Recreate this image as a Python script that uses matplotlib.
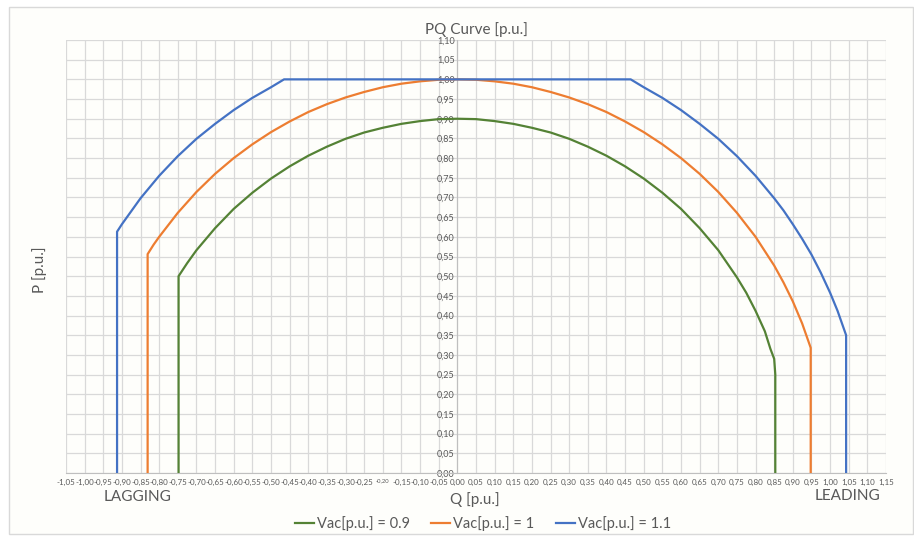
import matplotlib.pyplot as plt
import numpy as np
from matplotlib.patches import Rectangle

# Curva PQ (Q, P) para cada tensão
q_09 = [-0.748, -0.748, -0.725, -0.70, -0.65, -0.60, -0.55, -0.50, -0.45, -0.40, -0.35, -0.30, -0.25,
        -0.20, -0.15, -0.10, -0.05, 0.00, 0.05, 0.10, 0.15, 0.20, 0.25, 0.30, 0.35, 0.40,
        0.45, 0.50, 0.55, 0.60, 0.65, 0.70, 0.75, 0.775, 0.80, 0.825, 0.84, 0.85, 0.853, 0.853]
p_09 = [0.00, 0.50, 0.533, 0.566, 0.622, 0.671, 0.712, 0.748, 0.779, 0.806, 0.829, 0.849, 0.865,
        0.877, 0.887, 0.894, 0.899, 0.900, 0.899, 0.894, 0.887, 0.877, 0.865, 0.849, 0.829, 0.806,
        0.779, 0.748, 0.712, 0.671, 0.622, 0.566, 0.497, 0.458, 0.412, 0.360, 0.315, 0.29, 0.25, 0.00]

q_10 = [-0.831, -0.831, -0.815, -0.80, -0.75, -0.70, -0.65, -0.60, -0.55, -0.50, -0.45, -0.40, -0.35,
        -0.30, -0.25, -0.20, -0.15, -0.10, -0.05, 0.00, 0.05, 0.10, 0.15, 0.20, 0.25, 0.30,
        0.35, 0.40, 0.45, 0.50, 0.55, 0.60, 0.65, 0.70, 0.75, 0.80, 0.85, 0.875, 0.90, 0.925,
        0.948, 0.948]
p_10 = [0.00, 0.556, 0.580, 0.600, 0.661, 0.714, 0.760, 0.800, 0.835, 0.866, 0.893, 0.917, 0.937,
        0.954, 0.968, 0.980, 0.989, 0.995, 0.999, 1.000, 0.999, 0.995, 0.989, 0.980, 0.968, 0.954,
        0.937, 0.917, 0.893, 0.866, 0.835, 0.800, 0.760, 0.714, 0.661, 0.600, 0.527, 0.484, 0.436, 0.380,
        0.318, 0.00]

q_11 = [-0.913, -0.913, -0.90, -0.85, -0.80, -0.75, -0.70, -0.65, -0.60, -0.55, -0.50, -0.465,
        0.465, 0.50, 0.55, 0.60, 0.65, 0.70, 0.75, 0.80, 0.85, 0.875, 0.90, 0.925, 0.95, 0.975,
        1.00, 1.02, 1.043, 1.043]
p_11 = [0.00, 0.613, 0.632, 0.698, 0.755, 0.805, 0.849, 0.887, 0.922, 0.953, 0.980, 1.000,
        1.000, 0.980, 0.953, 0.922, 0.887, 0.849, 0.805, 0.755, 0.698, 0.667, 0.632, 0.595, 0.555, 0.509,
        0.458, 0.412, 0.350, 0.00]

series = [
    (q_09, p_09, 'Vac[p.u.] = 0.9', '#548235'),
    (q_10, p_10, 'Vac[p.u.] = 1', '#ED7D31'),
    (q_11, p_11, 'Vac[p.u.] = 1.1', '#4472C4'),
]

x_ticks = np.round(np.arange(-1.05, 1.151, 0.05), 2)
y_ticks = np.round(np.arange(0.0, 1.101, 0.05), 2)


def fmt(v):
    v = 0.0 if abs(v) < 1e-9 else v
    return f"{v:.2f}".replace('.', ',')


plt.rcParams['font.family'] = ['Lato', 'DejaVu Sans']
txt = '#595959'
grid = '#d9d9d9'

fig = plt.figure(figsize=(9.14, 5.37), dpi=100)
fig.patch.set_facecolor('white')
fig.patches.append(Rectangle((9 / 914, 3 / 537), 904 / 914, 527 / 537, transform=fig.transFigure,
                             facecolor='#fefefb', edgecolor='#d9d9d9', linewidth=1, zorder=-10))

ax = fig.add_axes([66 / 914, 1 - 473 / 537, 820 / 914, 433 / 537])
ax.set_facecolor('none')

for q, p, lab, cor in series:
    ax.plot(q, p, color=cor, linewidth=1.6, label=lab, zorder=3)

ax.set_xlim(-1.05, 1.15)
ax.set_ylim(0, 1.10)
ax.set_xticks(x_ticks)
ax.set_yticks(y_ticks)
ax.set_xticklabels([fmt(v) for v in x_ticks])
ax.set_yticklabels([fmt(v) for v in y_ticks])
ax.grid(True, color=grid, linewidth=0.9, zorder=0)
ax.set_axisbelow(True)

for s in ['top', 'right']:
    ax.spines[s].set_visible(False)
ax.spines['left'].set_position(('data', 0))
ax.spines['left'].set_color('#bfbfbf')
ax.spines['bottom'].set_color('#bfbfbf')
ax.tick_params(axis='both', length=0, labelcolor=txt)
ax.tick_params(axis='y', pad=2, labelsize=6.5)
ax.tick_params(axis='x', pad=4, labelsize=5.8)

# Excel encolheu o rótulo -0,20
for t in ax.get_xticklabels():
    if t.get_text() == '-0,20':
        t.set_fontsize(4.2)

ax.set_title('PQ Curve [p.u.]', fontsize=11, color=txt, pad=4)
fig.text(40 / 914, 1 - 270 / 537, 'P [p.u.]', rotation=90, fontsize=11, color=txt,
         ha='center', va='center')
fig.text(475 / 914, 1 - 500 / 537, 'Q [p.u.]', fontsize=11, color=txt, ha='center', va='center')
fig.text(138 / 914, 1 - 497 / 537, 'LAGGING', fontsize=11, color=txt, ha='center', va='center')
fig.text(848 / 914, 1 - 496 / 537, 'LEADING', fontsize=11, color=txt, ha='center', va='center')

fig.legend(loc='center', bbox_to_anchor=(483 / 914, 1 - 524 / 537), ncol=3, frameon=False,
           fontsize=10.5, handlelength=1.3, handletextpad=0.2, columnspacing=1.5,
           labelcolor=txt)

fig.savefig('out.png', dpi=100)
